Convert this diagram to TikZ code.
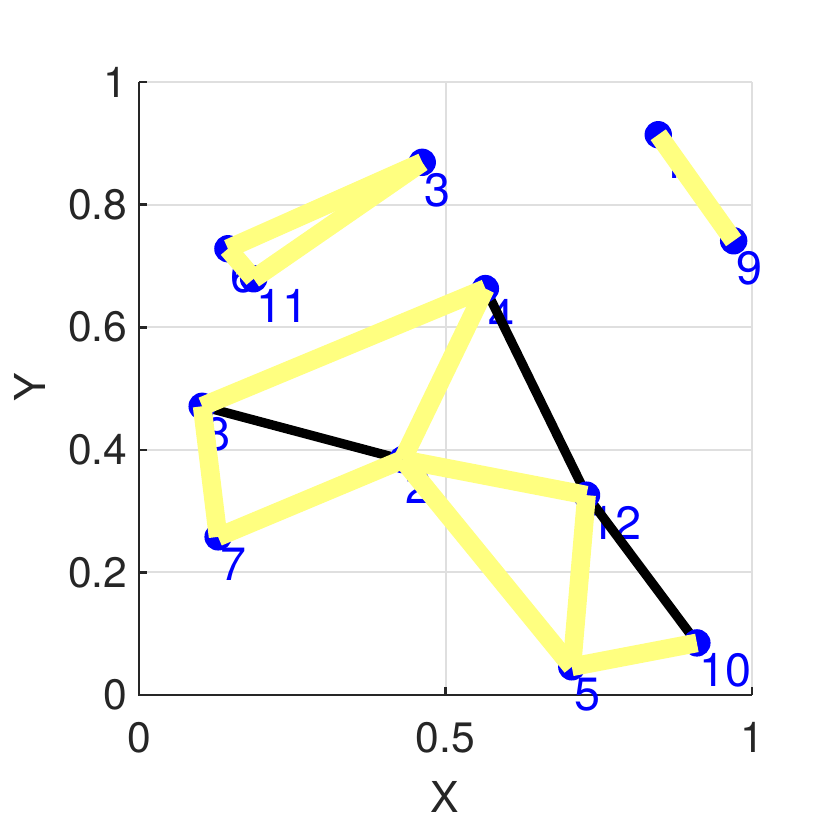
\documentclass[tikz,border=0pt]{standalone}
\usepackage{fontspec}
\setmainfont{TeX Gyre Heros}
\definecolor{edgeyellow}{RGB}{255,255,128}
\definecolor{axisgray}{RGB}{38,38,38}
\definecolor{gridgray}{RGB}{223,223,223}
\definecolor{markblue}{RGB}{0,0,255}

\begin{document}
\begin{tikzpicture}[x=7.3855cm, y=7.3855cm,
    dot/.style={circle, fill=markblue, inner sep=0pt, minimum size=0.33cm},
    lbl/.style={text=markblue, font=\fontsize{16}{16}\selectfont, anchor=north west, inner sep=0pt},
    ticklbl/.style={text=axisgray, font=\fontsize{14.6}{14.6}\selectfont, inner sep=0pt},
    lightedge/.style={edgeyellow, line width=6.4pt},
    darkedge/.style={black, line width=3.2pt}]
                \useasboundingbox (-0.2268,-0.2202) rectangle (1.1272,1.1338);

                % Grid and axes
                \draw[gridgray, line width=0.7pt] (0.5,0) -- (0.5,1) (1,0) -- (1,1);
                \foreach \v in {0.2,0.4,0.6,0.8,1}
                    \draw[gridgray, line width=0.7pt] (0,\v) -- (1,\v);
                \draw[axisgray, line width=0.9pt] (0,1) -- (0,0) -- (1,0);
                \foreach \v [count=\k] in {0,0.2,0.4,0.6,0.8,1} {
                    \draw[axisgray, line width=0.9pt] (0,\v) -- (0.013,\v);
                    \node[ticklbl, anchor=east] (yt\k) at (-0.018,\v) {\v};
                }
                \foreach \v [count=\k] in {0,0.5,1} {
                    \draw[axisgray, line width=0.9pt] (\v,0) -- (\v,0.013);
                    \node[ticklbl, anchor=north] (xt\k) at (\v,-0.044) {\v};
                }
                \node[ticklbl] (xlab) at (0.498,-0.166) {X};
                \node[ticklbl, rotate=90] (ylab) at (-0.178,0.502) {Y};

                % Points
                \coordinate (1) at (0.847,0.914);
                \coordinate (2) at (0.430,0.384);
                \coordinate (3) at (0.462,0.869);
                \coordinate (4) at (0.565,0.663);
                \coordinate (5) at (0.706,0.046);
                \coordinate (6) at (0.145,0.728);
                \coordinate (7) at (0.129,0.258);
                \coordinate (8) at (0.103,0.471);
                \coordinate (9) at (0.970,0.741);
                \coordinate (10) at (0.910,0.085);
                \coordinate (11) at (0.187,0.679);
                \coordinate (12) at (0.730,0.326);

                % Labels
                \foreach \i in {1,...,12}
                    \node[lbl] (t\i) at ([shift={(0.25mm,-1.25mm)}]\i) {\i};

                % Edges (dark)
                \draw[darkedge] (8) -- (2);
                \draw[darkedge] (4) -- (12);
                \draw[darkedge] (12) -- (10);

                % Nodes
                \foreach \i in {1,...,12}
                    \node[dot] (d\i) at (\i) {};

                % Edges (light)
                \draw[lightedge] (1) -- (9);
                \draw[lightedge] (3) -- (6);
                \draw[lightedge] (3) -- (11);
                \draw[lightedge] (6) -- (11);
                \draw[lightedge] (8) -- (4);
                \draw[lightedge] (4) -- (2);
                \draw[lightedge] (8) -- (7);
                \draw[lightedge] (7) -- (2);
                \draw[lightedge] (2) -- (12);
                \draw[lightedge] (2) -- (5);
                \draw[lightedge] (12) -- (5);
                \draw[lightedge] (5) -- (10);
            \end{tikzpicture}
\end{document}
